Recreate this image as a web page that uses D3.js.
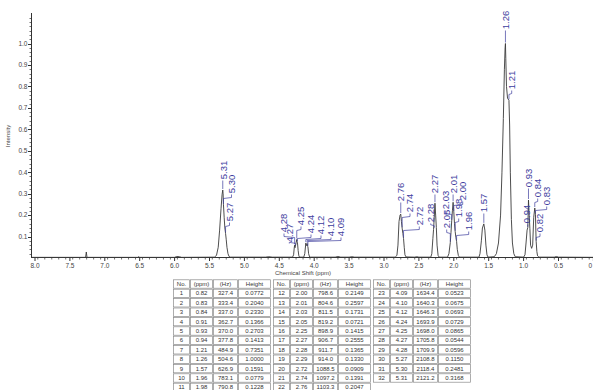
<!DOCTYPE html>
<html>
<head>
<meta charset="utf-8">
<script src="https://cdn.jsdelivr.net/npm/d3@7"></script>
<style>
  body { margin: 0; background: #fff; }
  svg { display: block; font-family: "Liberation Sans", Arial, sans-serif; }
</style>
</head>
<body>
<svg id="chart" width="593" height="390"></svg>
<script>
// spectrum trace, [ppm, intensity]
const spectrum = [
  [8.05, 0.003], [7.40, 0.003], [7.275, 0.003], [7.265, 0.028], [7.255, 0.003],
  [6.53, 0.003], [6.515, 0.006], [6.50, 0.003], [6.00, 0.003], [5.97, 0.007], [5.93, 0.006], [5.90, 0.003],
  [5.43, 0.004], [5.40, 0.012], [5.375, 0.05], [5.355, 0.13], [5.335, 0.23], [5.32, 0.295], [5.31, 0.3168],
  [5.305, 0.30], [5.30, 0.2481], [5.29, 0.19], [5.28, 0.14], [5.27, 0.115], [5.26, 0.085], [5.25, 0.05],
  [5.235, 0.02], [5.22, 0.007], [5.20, 0.004],
  [4.70, 0.004], [4.65, 0.006], [4.60, 0.004],
  [4.31, 0.004], [4.295, 0.015], [4.285, 0.05], [4.28, 0.0596], [4.275, 0.048], [4.27, 0.0544], [4.26, 0.07],
  [4.25, 0.0865], [4.245, 0.075], [4.24, 0.0729], [4.23, 0.035], [4.22, 0.01], [4.21, 0.004],
  [4.15, 0.004], [4.135, 0.02], [4.12, 0.0693], [4.115, 0.06], [4.11, 0.058], [4.10, 0.0675], [4.095, 0.055],
  [4.09, 0.0523], [4.08, 0.02], [4.065, 0.004],
  [3.70, 0.004], [3.66, 0.007], [3.62, 0.004], [3.50, 0.004], [3.46, 0.006], [3.42, 0.004],
  [2.84, 0.004], [2.815, 0.012], [2.80, 0.06], [2.785, 0.17], [2.77, 0.2], [2.76, 0.2047], [2.75, 0.17],
  [2.74, 0.1391], [2.73, 0.115], [2.72, 0.0909], [2.71, 0.05], [2.70, 0.015], [2.685, 0.005],
  [2.56, 0.004], [2.53, 0.006], [2.50, 0.004],
  [2.33, 0.004], [2.315, 0.02], [2.30, 0.09], [2.29, 0.133], [2.28, 0.19], [2.27, 0.2555], [2.26, 0.2],
  [2.25, 0.1415], [2.24, 0.06], [2.225, 0.012], [2.21, 0.004],
  [2.09, 0.004], [2.07, 0.02], [2.05, 0.0721], [2.04, 0.12], [2.03, 0.1731], [2.02, 0.22], [2.01, 0.2597],
  [2.00, 0.2149], [1.99, 0.16], [1.98, 0.1228], [1.97, 0.095], [1.96, 0.0779], [1.95, 0.04], [1.935, 0.012], [1.92, 0.004],
  [1.64, 0.004], [1.625, 0.02], [1.605, 0.08], [1.59, 0.14], [1.57, 0.1591], [1.555, 0.13], [1.54, 0.06],
  [1.525, 0.015], [1.51, 0.004],
  [1.42, 0.006], [1.39, 0.02], [1.36, 0.07], [1.33, 0.2], [1.31, 0.4], [1.29, 0.65], [1.275, 0.88], [1.265, 0.98],
  [1.26, 1.0], [1.255, 0.93], [1.245, 0.8], [1.23, 0.745], [1.21, 0.7351], [1.20, 0.62], [1.19, 0.4], [1.175, 0.18],
  [1.16, 0.07], [1.14, 0.02], [1.12, 0.006],
  [1.00, 0.004], [0.98, 0.015], [0.965, 0.07], [0.95, 0.13], [0.94, 0.1413], [0.935, 0.2], [0.93, 0.2703],
  [0.92, 0.2], [0.91, 0.1366], [0.90, 0.06], [0.885, 0.045], [0.87, 0.06], [0.855, 0.19], [0.84, 0.233],
  [0.835, 0.22], [0.83, 0.204], [0.825, 0.13], [0.82, 0.0772], [0.81, 0.03], [0.80, 0.01], [0.78, 0.004],
  [0.56, 0.004], [0.53, 0.007], [0.50, 0.004], [-0.05, 0.003]
];

// peak table
const peakNo = d3.range(1, 33);
const peakPpm = [0.82, 0.83, 0.84, 0.91, 0.93, 0.94, 1.21, 1.26, 1.57, 1.96, 1.98,
  2.00, 2.01, 2.03, 2.05, 2.25, 2.27, 2.28, 2.29, 2.72, 2.74, 2.76,
  4.09, 4.10, 4.12, 4.24, 4.25, 4.27, 4.28, 5.27, 5.30, 5.31];
const peakHz = [327.4, 333.4, 337.0, 362.7, 370.0, 377.8, 484.9, 504.6, 626.9, 783.1, 790.8,
  798.6, 804.6, 811.5, 819.2, 898.9, 906.7, 911.7, 914.0, 1088.5, 1097.2, 1103.3,
  1634.4, 1640.3, 1646.3, 1693.9, 1698.0, 1705.8, 1709.9, 2108.8, 2118.4, 2121.2];
const peakHeight = [0.0772, 0.2040, 0.2330, 0.1366, 0.2703, 0.1413, 0.7351, 1.0000, 0.1591, 0.0779, 0.1228,
  0.2149, 0.2597, 0.1731, 0.0721, 0.1415, 0.2555, 0.1365, 0.1330, 0.0909, 0.1391, 0.2047,
  0.0523, 0.0675, 0.0693, 0.0729, 0.0865, 0.0544, 0.0596, 0.1150, 0.2481, 0.3168];

// labelled peaks on the plot
const labelPpm = [5.31, 5.30, 5.27, 4.28, 4.27, 4.25, 4.24, 4.12, 4.10, 4.09,
  2.76, 2.74, 2.72, 2.28, 2.27, 2.05, 2.03, 2.01, 1.98, 2.00, 1.96, 1.57,
  1.26, 1.21, 0.94, 0.93, 0.84, 0.83, 0.82];
// where each label sits (pixel x, pixel y of text centre)
const labelPos = [[224, 170], [231.5, 184], [229.5, 212], [284, 223], [289.3, 233], [301, 216], [311, 224],
  [321, 225], [331, 227], [341, 227],
  [400.7, 192], [410, 203], [419.3, 216], [430.7, 213], [435, 184], [446.7, 219], [445.3, 200], [453.5, 184],
  [458.7, 208], [462.7, 191], [468.7, 221], [483.5, 203],
  [506, 20], [511.7, 80], [526.7, 214], [529, 178], [537.7, 188], [546.7, 196], [540, 223]];

const xTicks = d3.range(0, 8.01, 0.5);
const yTicks = [0.1, 0.2, 0.3, 0.4, 0.5, 0.6, 0.7, 0.8, 0.9, 1.0];

const svg = d3.select('#chart');
const x = d3.scaleLinear().domain([8, 0]).range([35, 593.4]);
const y = d3.scaleLinear().domain([0, 1]).range([258, 43.5]);
const axisColor = '#333';
const labelBlue = '#3d3d9e';

// y axis
const yAxis = svg.append('g').attr('transform', 'translate(31.5,0)');
yAxis.append('line').attr('y1', 13).attr('y2', 258).attr('stroke', axisColor);
yAxis.selectAll('.minor').data(d3.range(0.02, 1.13, 0.02))
  .join('line').attr('x1', -2).attr('x2', 0)
  .attr('y1', d => Math.round(y(d)) + 0.5).attr('y2', d => Math.round(y(d)) + 0.5)
  .attr('stroke', axisColor).attr('stroke-width', 0.7);
yAxis.selectAll('.major').data(yTicks)
  .join('line').attr('x1', -3.5).attr('x2', 0)
  .attr('y1', d => Math.round(y(d)) + 0.5).attr('y2', d => Math.round(y(d)) + 0.5)
  .attr('stroke', axisColor);
yAxis.selectAll('text').data(yTicks)
  .join('text').attr('x', -4).attr('y', d => y(d) + 2.3)
  .attr('text-anchor', 'end').attr('font-size', 6.5).attr('fill', '#444')
  .text(d => d.toFixed(1));
svg.append('text').attr('transform', 'translate(10,136) rotate(-90)')
  .attr('text-anchor', 'middle').attr('font-size', 6).attr('fill', '#444').text('Intensity');

// x axis
const xAxis = svg.append('g').attr('transform', 'translate(0,257.5)');
xAxis.append('line').attr('x1', 31).attr('x2', 593).attr('stroke', axisColor);
xAxis.selectAll('.minor').data(d3.range(-0.04, 8.05, 0.1))
  .join('line').attr('y1', 0).attr('y2', 2)
  .attr('x1', d => x(d)).attr('x2', d => x(d))
  .attr('stroke', axisColor).attr('stroke-width', 0.7);
xAxis.selectAll('.major').data(xTicks)
  .join('line').attr('y1', 0).attr('y2', 3.5)
  .attr('x1', d => x(d)).attr('x2', d => x(d))
  .attr('stroke', axisColor);
xAxis.selectAll('text').data(xTicks)
  .join('text').attr('x', d => d === 0 ? 592 : x(d)).attr('y', 10)
  .attr('text-anchor', d => d === 0 ? 'end' : 'middle').attr('font-size', 6.5).attr('fill', '#444')
  .text(d => d === 0 ? '0' : d.toFixed(1));
svg.append('text').attr('x', 303).attr('y', 275)
  .attr('text-anchor', 'middle').attr('font-size', 6).attr('fill', '#444').text('Chemical Shift (ppm)');

// spectrum
const line = d3.line().x(d => x(d[0])).y(d => y(d[1]));
svg.append('path').datum(spectrum)
  .attr('d', line).attr('fill', 'none')
  .attr('stroke', '#3a3a3a').attr('stroke-width', 0.9);

// peak labels with connectors
const heightOf = ppm => peakHeight[peakPpm.indexOf(ppm)];
const labels = svg.append('g');
labelPpm.forEach((ppm, i) => {
  const [lx, ly] = labelPos[i];
  const px = x(ppm), py = y(heightOf(ppm));
  const bottom = ly + 10.5;
  let path;
  if (Math.abs(lx - px) < 1.5) {
    path = `M${px},${bottom}L${px},${py - 1}`;
  } else {
    const elbow = Math.min(bottom + 4, py - 3);
    path = `M${lx},${bottom}L${lx},${elbow - 1}L${px},${elbow}L${px},${py - 1}`;
  }
  labels.append('path').attr('d', path).attr('fill', 'none')
    .attr('stroke', labelBlue).attr('stroke-width', 0.7);
  labels.append('text')
    .attr('transform', `translate(${lx + 3.3},${ly}) rotate(-90)`)
    .attr('text-anchor', 'middle').attr('font-size', 9.5).attr('fill', labelBlue)
    .text(ppm.toFixed(2));
});

// peak table
const header = ['No.', '(ppm)', '(Hz)', 'Height'];
const colW = [17, 23, 25, 33];
const tableX = 173, tableY = 279.3, rowH = 9.4, groupGap = 100;
const table = svg.append('g');
for (let g = 0; g < 3; g++) {
  const gx = tableX + g * groupGap;
  const rows = [header];
  for (let r = 0; r < 11; r++) {
    const k = g * 11 + r;
    if (k >= peakNo.length) break;
    rows.push([String(peakNo[k]), peakPpm[k].toFixed(2), peakHz[k].toFixed(1), peakHeight[k].toFixed(4)]);
  }
  rows.forEach((row, r) => {
    let cx = gx;
    row.forEach((cell, c) => {
      table.append('rect').attr('x', cx + 0.5).attr('y', tableY + r * rowH + 0.5)
        .attr('width', colW[c] - 1).attr('height', rowH - 1)
        .attr('fill', '#fff').attr('stroke', '#8a8a8a').attr('stroke-width', 0.7);
      table.append('text').attr('x', cx + colW[c] / 2).attr('y', tableY + r * rowH + 6.6)
        .attr('text-anchor', 'middle').attr('font-size', 6).attr('fill', '#333')
        .text(cell);
      cx += colW[c];
    });
  });
}
</script>
</body>
</html>
